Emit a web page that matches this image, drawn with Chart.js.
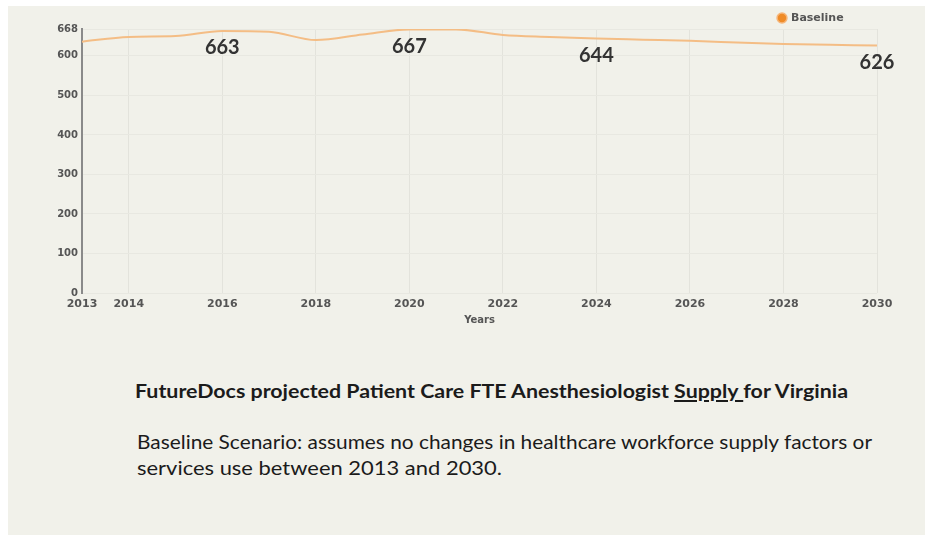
<!DOCTYPE html>
<html><head><meta charset="utf-8">
<script src="https://cdn.jsdelivr.net/npm/chart.js@4"></script>
<style>
html,body{margin:0;padding:0;background:#fff;width:925px;height:535px;overflow:hidden;}
#panel{position:absolute;left:8px;top:6px;right:0;bottom:0;background:#f1f1ea;}
#wrap{position:absolute;left:0;top:0;width:925px;height:327px;}
.txt{position:absolute;left:0;top:0;white-space:nowrap;font-family:Lato,"Open Sans",sans-serif;color:#1b1b1b;font-size:19px;line-height:1.2;transform-origin:0 50%;display:inline-block;}
u{text-decoration-thickness:1.5px;text-underline-offset:2px;}
</style></head><body>
<div id="panel"></div>
<div id="wrap"><canvas id="c" width="925" height="327"></canvas></div>
<div class="txt" data-l="135" data-w="713" data-y="391" style="font-weight:bold">FutureDocs projected Patient Care FTE Anesthesiologist <u>Supply&nbsp;</u>for Virginia</div>
<div class="txt" data-l="137" data-w="735" data-y="442">Baseline Scenario: assumes no changes in healthcare workforce supply factors or</div>
<div class="txt" data-l="137" data-w="365" data-y="468">services use between 2013 and 2030.</div>
<script>
const years = [2013,2014,2015,2016,2017,2018,2019,2020,2021,2022,2023,2024,2025,2026,2027,2028,2029,2030];
const baseline = [636,648,650,663,661,640,654,667,667,653,648,644,641,638,634,630,628,626];
const yTicks = [0,100,200,300,400,500,600,668];
const xTicks = [2013,2014,2016,2018,2020,2022,2024,2026,2028,2030];
const labelYears = [2016,2020,2024,2030];
const seriesName = 'Baseline';
const axisTitle = 'Years';

document.querySelectorAll('.txt').forEach(el => {
  const r = el.getBoundingClientRect();
  const s = (+el.dataset.w) / r.width;
  el.style.left = el.dataset.l + 'px';
  el.style.top = (+el.dataset.y - r.height / 2) + 'px';
  el.style.transform = 'scaleX(' + s + ')';
});

const legendPlace = {
  id: 'legendPlace',
  afterLayout(chart) {
    const lg = chart.legend;
    if (!lg || !lg.lineWidths) return;
    const pad = lg.options.labels.padding;
    const fs = 11;
    lg.top = 18 - pad - fs / 2;
    lg.right = 778.5 + lg.lineWidths[0];
  }
};

const valueLabels = {
  id: 'valueLabels',
  afterDatasetsDraw(chart) {
    const ctx = chart.ctx;
    const xs = chart.scales.x, ys = chart.scales.y;
    ctx.save();
    ctx.font = 'bold 20px Lato, "Open Sans", sans-serif';
    ctx.fillStyle = '#333333';
    ctx.textAlign = 'center';
    ctx.textBaseline = 'middle';
    labelYears.forEach(yr => {
      const i = years.indexOf(yr);
      const v = baseline[i];
      ctx.fillText(String(v), xs.getPixelForValue(yr), ys.getPixelForValue(v) + 17);
    });
    ctx.restore();
  }
};

new Chart(document.getElementById('c'), {
  type: 'line',
  data: {
    datasets: [{
      label: seriesName,
      data: years.map((y, i) => ({x: y, y: baseline[i]})),
      borderColor: '#f4bd85',
      backgroundColor: '#ef8b27',
      borderWidth: 2,
      pointRadius: 0,
      pointBackgroundColor: '#ef8b27',
      pointBorderColor: '#f6b67a',
      pointBorderWidth: 1.5,
      cubicInterpolationMode: 'monotone',
      fill: false
    }]
  },
  options: {
    responsive: false,
    animation: false,
    devicePixelRatio: 1,
    layout: {padding: {left: 0, right: 48, top: 0, bottom: 0}},
    plugins: {
      legend: {
        position: 'top',
        align: 'end',
        labels: {
          usePointStyle: true,
          pointStyle: 'circle',
          boxWidth: 7,
          boxHeight: 7,
          padding: 8,
          color: '#555555',
          font: {family: '"DejaVu Sans"', size: 11, weight: 'bold'}
        }
      },
      tooltip: {enabled: false}
    },
    scales: {
      x: {
        type: 'linear',
        min: 2013,
        max: 2030,
        afterBuildTicks: s => { s.ticks = xTicks.map(v => ({value: v})); },
        afterFit: s => { s.height = 34; },
        ticks: {
          callback: v => String(v),
          color: '#555555',
          font: {family: '"DejaVu Sans"', size: 11, weight: 'bold'},
          padding: 5,
          maxRotation: 0,
          autoSkip: false
        },
        grid: {color: '#e3e3dc', drawTicks: false},
        border: {display: false},
        title: {
          display: true,
          text: axisTitle,
          color: '#555555',
          font: {family: '"DejaVu Sans"', size: 10, weight: 'bold'},
          padding: {top: 4, bottom: 1}
        }
      },
      y: {
        min: 0,
        max: 668,
        afterBuildTicks: s => { s.ticks = yTicks.map(v => ({value: v})); },
        afterFit: s => { s.width = 82; },
        ticks: {
          color: '#555555',
          font: {family: '"DejaVu Sans"', size: 10, weight: 'bold'},
          padding: 4
        },
        grid: {color: '#e8e8e1', drawTicks: false},
        border: {color: '#8a8a8a', width: 2}
      }
    }
  },
  plugins: [legendPlace, valueLabels]
});
</script>
</body></html>
